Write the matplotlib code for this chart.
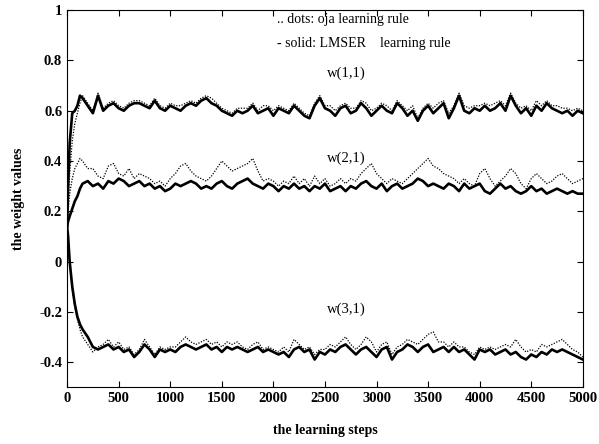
#!/usr/bin/env python3
"""Weight values vs learning steps: oja (dots) vs LMSER (solid)"""
import numpy as np
import matplotlib.pyplot as plt

plt.rcParams.update({
    'font.family': 'Liberation Serif',
    'font.size': 10,
    'axes.unicode_minus': False,
    'xtick.direction': 'in',
    'ytick.direction': 'in',
})

# sample positions (learning steps)
steps = np.concatenate([[0, 10, 25, 50, 75, 100, 125, 150, 200],
                        np.arange(250, 5001, 50)])

# w(1,1)
w11_lmser = [0.14, 0.30, 0.47, 0.59, 0.60, 0.62, 0.66, 0.65, 0.62,
             0.59, 0.66, 0.60, 0.62, 0.63, 0.61, 0.60, 0.62, 0.63, 0.63,
             0.62, 0.61, 0.64, 0.61, 0.60, 0.62, 0.61, 0.60, 0.62, 0.63,
             0.62, 0.64, 0.65, 0.63, 0.62, 0.60, 0.59, 0.58, 0.60, 0.59,
             0.60, 0.62, 0.59, 0.60, 0.61, 0.58, 0.61, 0.60, 0.59, 0.62,
             0.60, 0.58, 0.57, 0.62, 0.65, 0.61, 0.60, 0.58, 0.61, 0.62,
             0.59, 0.60, 0.63, 0.61, 0.58, 0.60, 0.62, 0.60, 0.59, 0.63,
             0.61, 0.58, 0.60, 0.56, 0.60, 0.62, 0.59, 0.61, 0.63, 0.57,
             0.61, 0.66, 0.60, 0.59, 0.61, 0.60, 0.62, 0.60, 0.61, 0.63,
             0.60, 0.66, 0.62, 0.59, 0.61, 0.58, 0.62, 0.60, 0.63, 0.61,
             0.60, 0.59, 0.60, 0.58, 0.60, 0.59]
w11_oja = [0.14, 0.22, 0.35, 0.48, 0.55, 0.59, 0.63, 0.66, 0.63,
           0.60, 0.67, 0.61, 0.63, 0.64, 0.62, 0.61, 0.63, 0.64, 0.64,
           0.63, 0.62, 0.65, 0.62, 0.61, 0.63, 0.62, 0.62, 0.63, 0.64,
           0.63, 0.65, 0.66, 0.65, 0.63, 0.61, 0.60, 0.59, 0.61, 0.61,
           0.61, 0.63, 0.60, 0.62, 0.62, 0.60, 0.62, 0.61, 0.60, 0.63,
           0.61, 0.59, 0.58, 0.63, 0.66, 0.62, 0.62, 0.60, 0.62, 0.63,
           0.61, 0.61, 0.64, 0.63, 0.60, 0.61, 0.63, 0.62, 0.60, 0.64,
           0.62, 0.60, 0.62, 0.57, 0.61, 0.63, 0.61, 0.63, 0.64, 0.59,
           0.62, 0.67, 0.62, 0.61, 0.62, 0.62, 0.63, 0.62, 0.63, 0.64,
           0.62, 0.67, 0.63, 0.61, 0.62, 0.60, 0.64, 0.62, 0.64, 0.62,
           0.62, 0.61, 0.61, 0.60, 0.61, 0.60]

# w(2,1)
w21_lmser = [0.14, 0.16, 0.18, 0.21, 0.24, 0.26, 0.29, 0.31, 0.32,
             0.30, 0.31, 0.29, 0.32, 0.31, 0.33, 0.32, 0.30, 0.31, 0.32,
             0.30, 0.31, 0.29, 0.30, 0.28, 0.29, 0.31, 0.30, 0.31, 0.32,
             0.31, 0.29, 0.30, 0.29, 0.31, 0.32, 0.30, 0.29, 0.31, 0.32,
             0.33, 0.31, 0.30, 0.29, 0.31, 0.30, 0.28, 0.30, 0.29, 0.31,
             0.29, 0.30, 0.28, 0.30, 0.29, 0.31, 0.28, 0.29, 0.30, 0.28,
             0.30, 0.29, 0.31, 0.32, 0.30, 0.29, 0.31, 0.28, 0.30, 0.31,
             0.29, 0.30, 0.31, 0.33, 0.32, 0.30, 0.31, 0.30, 0.29, 0.31,
             0.30, 0.28, 0.31, 0.29, 0.30, 0.31, 0.28, 0.27, 0.29, 0.31,
             0.29, 0.30, 0.28, 0.27, 0.28, 0.30, 0.28, 0.29, 0.27, 0.28,
             0.29, 0.28, 0.27, 0.28, 0.27, 0.27]
w21_oja = [0.14, 0.20, 0.27, 0.33, 0.37, 0.39, 0.41, 0.40, 0.37,
           0.37, 0.34, 0.33, 0.38, 0.39, 0.35, 0.34, 0.37, 0.33, 0.35,
           0.34, 0.33, 0.31, 0.32, 0.30, 0.33, 0.35, 0.38, 0.39, 0.36,
           0.34, 0.33, 0.32, 0.34, 0.37, 0.40, 0.38, 0.36, 0.37, 0.38,
           0.39, 0.41, 0.36, 0.32, 0.33, 0.32, 0.30, 0.32, 0.31, 0.34,
           0.31, 0.33, 0.30, 0.34, 0.31, 0.33, 0.30, 0.31, 0.33, 0.31,
           0.33, 0.32, 0.35, 0.37, 0.39, 0.35, 0.33, 0.31, 0.33, 0.32,
           0.31, 0.33, 0.35, 0.37, 0.39, 0.41, 0.38, 0.37, 0.35, 0.34,
           0.33, 0.31, 0.33, 0.31, 0.30, 0.35, 0.37, 0.33, 0.30, 0.32,
           0.34, 0.37, 0.35, 0.31, 0.29, 0.33, 0.35, 0.33, 0.31, 0.32,
           0.34, 0.35, 0.33, 0.31, 0.32, 0.33]

# w(3,1)
w31_lmser = [0.14, 0.10, 0.00, -0.10, -0.17, -0.22, -0.25, -0.27, -0.30,
             -0.34, -0.35, -0.34, -0.33, -0.35, -0.34, -0.36, -0.35, -0.38, -0.36,
             -0.33, -0.35, -0.38, -0.35, -0.36, -0.35, -0.36, -0.34, -0.33, -0.34,
             -0.35, -0.34, -0.33, -0.35, -0.34, -0.36, -0.34, -0.35, -0.34, -0.35,
             -0.36, -0.35, -0.34, -0.36, -0.35, -0.36, -0.37, -0.36, -0.38, -0.35,
             -0.34, -0.36, -0.35, -0.39, -0.36, -0.37, -0.35, -0.36, -0.34, -0.33,
             -0.35, -0.37, -0.35, -0.34, -0.36, -0.38, -0.35, -0.34, -0.39, -0.36,
             -0.35, -0.33, -0.34, -0.36, -0.34, -0.33, -0.36, -0.35, -0.34, -0.36,
             -0.34, -0.36, -0.35, -0.37, -0.39, -0.35, -0.36, -0.35, -0.37, -0.36,
             -0.35, -0.37, -0.36, -0.38, -0.39, -0.37, -0.38, -0.36, -0.37, -0.35,
             -0.36, -0.35, -0.36, -0.37, -0.38, -0.39]
w31_oja = [0.14, 0.09, -0.01, -0.11, -0.18, -0.23, -0.27, -0.30, -0.33,
           -0.36, -0.34, -0.33, -0.31, -0.34, -0.32, -0.35, -0.34, -0.37, -0.35,
           -0.31, -0.34, -0.37, -0.34, -0.35, -0.34, -0.34, -0.32, -0.30, -0.32,
           -0.33, -0.32, -0.31, -0.33, -0.32, -0.34, -0.32, -0.33, -0.32, -0.34,
           -0.35, -0.33, -0.32, -0.35, -0.34, -0.35, -0.36, -0.34, -0.36, -0.31,
           -0.33, -0.35, -0.34, -0.37, -0.35, -0.35, -0.33, -0.34, -0.32, -0.30,
           -0.33, -0.35, -0.33, -0.30, -0.32, -0.36, -0.33, -0.32, -0.37, -0.34,
           -0.33, -0.31, -0.32, -0.33, -0.31, -0.29, -0.28, -0.32, -0.32, -0.34,
           -0.32, -0.34, -0.34, -0.36, -0.37, -0.34, -0.35, -0.34, -0.35, -0.34,
           -0.33, -0.34, -0.31, -0.34, -0.36, -0.35, -0.36, -0.33, -0.34, -0.33,
           -0.32, -0.31, -0.33, -0.35, -0.36, -0.38]

x_ticks = [0, 500, 1000, 1500, 2000, 2500, 3000, 3500, 4000, 4500, 5000]
y_ticks = [-0.4, -0.2, 0, 0.2, 0.4, 0.6, 0.8, 1]
y_tick_labels = ['-0.4', '-0.2', '0', '0.2', '0.4', '0.6', '0.8', '1']

fig = plt.figure(figsize=(5.99, 4.44), dpi=100)
ax = fig.add_axes([0.112, 0.128, 0.861, 0.849])

for oja, lmser in [(w11_oja, w11_lmser), (w21_oja, w21_lmser), (w31_oja, w31_lmser)]:
    ax.plot(steps, oja, linestyle=(0, (1, 1.2)), color='black', linewidth=0.9)
    ax.plot(steps, lmser, '-', color='black', linewidth=1.9)

ax.text(2035, 0.964, '.. dots: oja learning rule', fontsize=10, va='center')
ax.text(2035, 0.869, '- solid: LMSER    learning rule', fontsize=10, va='center')
ax.text(2520, 0.75, 'w(1,1)', fontsize=10.5, va='center')
ax.text(2520, 0.41, 'w(2,1)', fontsize=10.5, va='center')
ax.text(2520, -0.19, 'w(3,1)', fontsize=10.5, va='center')

ax.set_xlim(0, 5000)
ax.set_ylim(-0.5, 1)
ax.set_xticks(x_ticks)
ax.set_yticks(y_ticks)
ax.set_yticklabels(y_tick_labels)
ax.tick_params(top=True, right=True, length=4, width=0.8, labelsize=10.5)
for lab in ax.get_xticklabels() + ax.get_yticklabels():
    lab.set_fontweight('bold')

ax.set_xlabel('the learning steps', fontweight='bold', fontsize=10, labelpad=14)
ax.set_ylabel('the weight values', fontweight='bold', fontsize=10, labelpad=10)

plt.savefig('out.png', dpi=100)
